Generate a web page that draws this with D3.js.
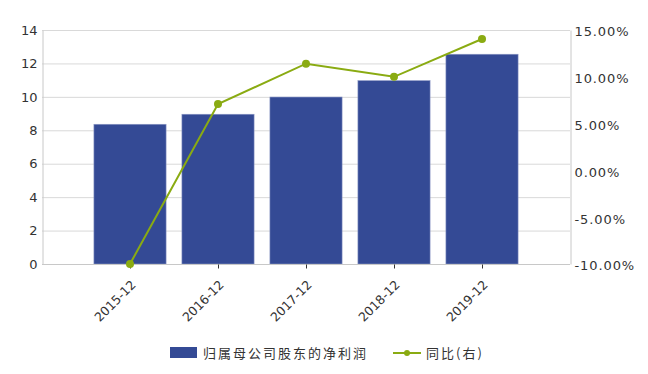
<!DOCTYPE html>
<html>
<head>
<meta charset="utf-8">
<script src="https://cdn.jsdelivr.net/npm/d3@7"></script>
<style>
  body { margin: 0; background: #fff; }
  text { font-family: "DejaVu Sans", Verdana, sans-serif; fill: #333; }
</style>
</head>
<body>
<script>
var w = 648;
var h = 374;
var padLeft = 42, padRight = 570, padTop = 30, padBottom = 264;

var categories = ["2015-12", "2016-12", "2017-12", "2018-12", "2019-12"];
var profit = [8.36, 8.96, 9.99, 10.97, 12.55];
var yoy = [-10.0, 7.09, 11.4, 10.0, 14.04];
var leftTicks = [0, 2, 4, 6, 8, 10, 12, 14];
var rightTicks = [-10, -5, 0, 5, 10, 15];
var legendNames = ["归属母公司股东的净利润", "同比(右)"];

var barColor = "#344a95";
var lineColor = "#8aab12";

var svg = d3.select("body").append("svg")
  .attr("width", w)
  .attr("height", h);

var x = d3.scalePoint().domain(categories).range([padLeft, padRight]).padding(1);
var yL = d3.scaleLinear().domain([0, 14]).range([padBottom, padTop]);
var yR = d3.scaleLinear().domain([-10, 15]).range([padBottom, padTop]);
var barW = x.step() * 0.82;

// gridlines
svg.append("g")
  .selectAll("line")
  .data(leftTicks)
  .enter()
  .append("line")
  .attr("x1", padLeft)
  .attr("x2", padRight)
  .attr("y1", function(d) { return yL(d) + 0.5; })
  .attr("y2", function(d) { return yL(d) + 0.5; })
  .attr("stroke", "#d9d9d9")
  .attr("stroke-width", 1);

// bars
svg.append("g")
  .selectAll("rect")
  .data(profit)
  .enter()
  .append("rect")
  .attr("x", function(d, i) { return x(categories[i]) - barW / 2; })
  .attr("y", function(d) { return yL(d); })
  .attr("width", barW)
  .attr("height", function(d) { return yL(0) - yL(d); })
  .attr("fill", barColor)
  .attr("stroke", "#8b97c4")
  .attr("stroke-width", 0.6);

// left axis
var axL = svg.append("g")
  .attr("transform", "translate(" + (padLeft + 0.5) + ",0)")
  .call(d3.axisLeft(yL).tickValues(leftTicks).tickSize(0).tickPadding(5));
axL.select(".domain").attr("stroke", "#c8c8c8");
axL.selectAll("text").style("font-size", "13px").attr("fill", "#333");

// right axis
var axR = svg.append("g")
  .attr("transform", "translate(" + (padRight + 0.5) + ",0)")
  .call(d3.axisRight(yR).tickValues(rightTicks).tickSize(0).tickPadding(4)
    .tickFormat(function(d) { return d.toFixed(2) + "%"; }));
axR.select(".domain").attr("stroke", "#c8c8c8");
axR.selectAll("text")
  .style("font-size", "13px")
  .style("letter-spacing", "0.9px")
  .attr("fill", "#333")
  .attr("dy", "0.45em");

// bottom axis
var axB = svg.append("g")
  .attr("transform", "translate(0," + (padBottom + 0.5) + ")")
  .call(d3.axisBottom(x).tickSize(4).tickSizeOuter(0));
axB.select(".domain").attr("stroke", "#c8c8c8").attr("d", "M" + padLeft + ",0H" + padRight);
axB.selectAll(".tick line").attr("stroke", "#333");
axB.selectAll("text")
  .style("font-size", "12.5px")
  .attr("fill", "#333")
  .attr("text-anchor", "end")
  .attr("y", 0)
  .attr("dy", "0.35em")
  .attr("transform", "translate(3,18) rotate(-45)");

// line
var line = d3.line()
  .x(function(d, i) { return x(categories[i]); })
  .y(function(d) { return yR(d); });

svg.append("path")
  .datum(yoy)
  .attr("d", line)
  .attr("fill", "none")
  .attr("stroke", lineColor)
  .attr("stroke-width", 2);

svg.append("g")
  .selectAll("circle")
  .data(yoy)
  .enter()
  .append("circle")
  .attr("cx", function(d, i) { return x(categories[i]); })
  .attr("cy", function(d) { return yR(d); })
  .attr("r", 4)
  .attr("fill", lineColor);

// legend
var lg = svg.append("g");
lg.append("rect")
  .attr("x", 170).attr("y", 347)
  .attr("width", 27).attr("height", 11)
  .attr("fill", barColor);
lg.append("text")
  .attr("x", 203).attr("y", 353)
  .attr("dy", "0.35em")
  .style("font-size", "13px")
  .style("letter-spacing", "2px")
  .style("font-family", "'Noto Sans CJK SC', sans-serif")
  .text(legendNames[0]);
lg.append("line")
  .attr("x1", 393).attr("x2", 421)
  .attr("y1", 353).attr("y2", 353)
  .attr("stroke", lineColor)
  .attr("stroke-width", 2);
lg.append("circle")
  .attr("cx", 407).attr("cy", 353).attr("r", 3)
  .attr("fill", lineColor);
lg.append("text")
  .attr("x", 426).attr("y", 353)
  .attr("dy", "0.35em")
  .style("font-size", "13px")
  .style("letter-spacing", "2px")
  .style("font-family", "'Noto Sans CJK SC', sans-serif")
  .text(legendNames[1]);
</script>
</body>
</html>
